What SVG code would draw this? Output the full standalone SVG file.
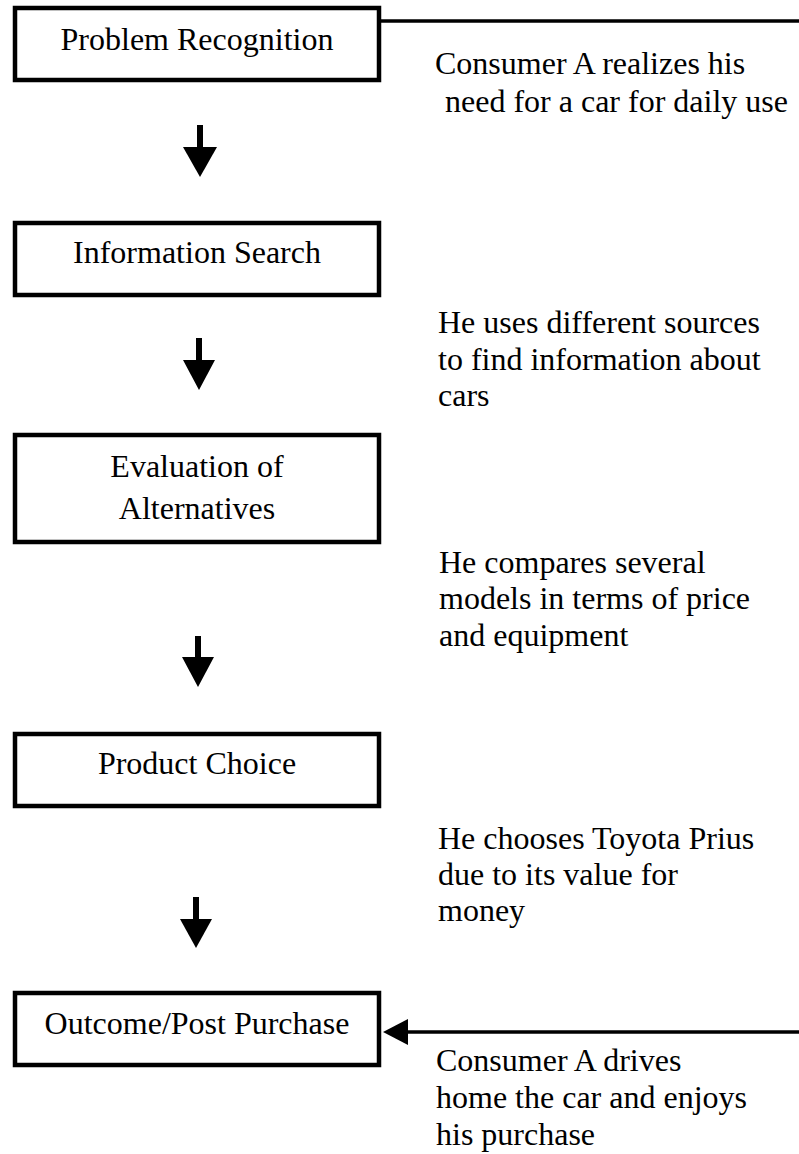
<svg xmlns="http://www.w3.org/2000/svg" width="799" height="1154" viewBox="0 0 799 1154">
<style>
.box{fill:#fff;stroke:#000;stroke-width:4.5}
.t{font-family:"Liberation Serif","Times New Roman",serif;font-size:32px;fill:#000}
.c{text-anchor:middle}
.ln{stroke:#000;stroke-width:3.5;fill:none}
.sh{stroke:#000;stroke-width:6;fill:none}
.hd{fill:#000}
</style>
<rect width="799" height="1154" fill="#fff"/>
<g id="connectors">
<line class="ln" x1="379" y1="21" x2="799" y2="21"/>
<line class="sh" x1="200" y1="125" x2="200" y2="148"/>
<polygon class="hd" points="183,147 217,147 200,177"/>
<line class="sh" x1="199" y1="338" x2="199" y2="361"/>
<polygon class="hd" points="183,360 215,360 199,390"/>
<line class="sh" x1="198" y1="636" x2="198" y2="658"/>
<polygon class="hd" points="182,657 214,657 198,687"/>
<line class="sh" x1="196" y1="897" x2="196" y2="920"/>
<polygon class="hd" points="180,919 212,919 196,948"/>
<line class="ln" x1="799" y1="1032" x2="405" y2="1032"/>
<polygon class="hd" points="383,1032 408,1019 408,1045"/>
</g>
<g id="node-problem-recognition">
<rect class="box" x="15" y="8" width="364" height="72"/>
<text class="t c" x="197" y="50">Problem Recognition</text>
</g>
<g id="note-1">
<text class="t" x="435" y="74">Consumer A realizes his</text>
<text class="t" x="445" y="112">need for a car for daily use</text>
</g>
<g id="node-information-search">
<rect class="box" x="15" y="223" width="364" height="72"/>
<text class="t c" x="197" y="263">Information Search</text>
</g>
<g id="note-2">
<text class="t" x="438" y="333">He uses different sources</text>
<text class="t" x="438" y="370">to find information about</text>
<text class="t" x="438" y="406">cars</text>
</g>
<g id="node-evaluation">
<rect class="box" x="15" y="435" width="364" height="107"/>
<text class="t c" x="197" y="477">Evaluation of</text>
<text class="t c" x="197" y="519">Alternatives</text>
</g>
<g id="note-3">
<text class="t" x="439" y="573">He compares several</text>
<text class="t" x="439" y="609">models in terms of price</text>
<text class="t" x="439" y="646">and equipment</text>
</g>
<g id="node-product-choice">
<rect class="box" x="15" y="734" width="364" height="72"/>
<text class="t c" x="197" y="774">Product Choice</text>
</g>
<g id="note-4">
<text class="t" x="438" y="849">He chooses Toyota Prius</text>
<text class="t" x="438" y="885">due to its value for</text>
<text class="t" x="438" y="921">money</text>
</g>
<g id="node-outcome">
<rect class="box" x="15" y="993" width="364" height="72"/>
<text class="t c" x="197" y="1034">Outcome/Post Purchase</text>
</g>
<g id="note-5">
<text class="t" x="436" y="1071">Consumer A drives</text>
<text class="t" x="436" y="1108">home the car and enjoys</text>
<text class="t" x="436" y="1145">his purchase</text>
</g>
</svg>
